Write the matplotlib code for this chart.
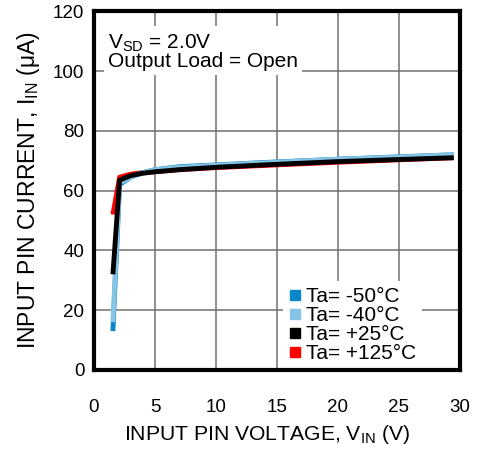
import matplotlib.pyplot as plt

plt.rcParams['font.family'] = ['Liberation Sans', 'DejaVu Sans']

# Input pin voltage (V)
vin = [1.55, 2.1, 3, 4, 5, 7, 10, 15, 20, 25, 29.5]
# Input pin current (uA) per temperature
i_m50 = [13, 62, 64.5, 66, 67, 68, 68.6, 69.6, 70.5, 71.3, 72]
i_m40 = [16, 62.5, 64.5, 66, 67, 67.8, 68.5, 69.5, 70.5, 71.2, 72]
i_p25 = [32, 63.5, 65, 65.8, 66.3, 67, 67.8, 68.8, 69.7, 70.4, 71]
i_p125 = [52, 64.5, 65.5, 66, 66.3, 67, 67.7, 68.6, 69.5, 70.3, 71]

labels = ['Ta= -50°C', 'Ta= -40°C', 'Ta= +25°C', 'Ta= +125°C']
colors = ['#0a87c9', '#86c4e6', '#000000', '#ff0000']

fig = plt.figure(figsize=(4.82, 4.49), dpi=100)
ax = fig.add_axes([0.195, 0.176, 0.759, 0.799])

series = [i_m50, i_m40, i_p25, i_p125]
# draw order: red, dark blue, light blue, black
order = [3, 0, 1, 2]
for z, idx in enumerate(order):
    ax.plot(vin, series[idx], color=colors[idx], lw=3.5, solid_capstyle='butt',
            zorder=3 + z)

ax.set_xlim(0, 30)
ax.set_ylim(0, 120)
ax.set_xticks(range(0, 31, 5))
ax.set_yticks(range(0, 121, 20))
ax.grid(True, color='#707070', lw=1.1)
ax.tick_params(axis='x', length=0, labelsize=13.5, pad=21)
ax.tick_params(axis='y', length=0, labelsize=13.5, pad=7)
for s in ax.spines.values():
    s.set_linewidth(3)
    s.set_zorder(12)

ax.set_xlabel('INPUT PIN VOLTAGE, V$_{\\mathregular{IN}}$ (V)', fontsize=15.2,
              labelpad=5, x=0.473)
ax.set_ylabel('INPUT PIN CURRENT, I$_{\\mathregular{IN}}$ (μA)', fontsize=16.5, labelpad=8)

ax.text(1.15, 113, 'V$_{\\mathregular{SD}}$ = 2.0V\nOutput Load = Open', fontsize=15,
        va='top', ha='left', linespacing=0.88, zorder=10,
        bbox=dict(facecolor='white', edgecolor='none', pad=3))

handles = [plt.Line2D([], [], marker='s', ls='none', color=c, markersize=7) for c in colors]
leg = ax.legend(handles, labels, loc='lower right', bbox_to_anchor=(0.925, -0.027),
                fontsize=15, frameon=True, handletextpad=0.2, labelspacing=0.0,
                borderpad=0.3, handlelength=0.6, fancybox=False)
leg.get_frame().set_edgecolor('none')
leg.get_frame().set_alpha(1)
leg.set_zorder(11)

fig.savefig('out.png', dpi=100)
